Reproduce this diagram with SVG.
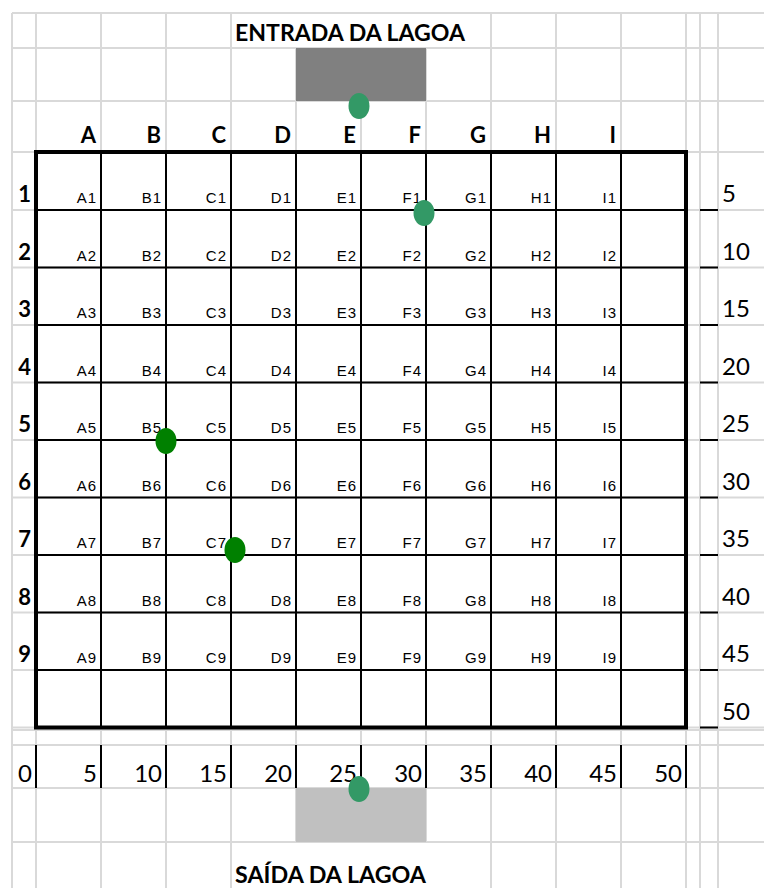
<svg xmlns="http://www.w3.org/2000/svg" width="764" height="888" viewBox="0 0 764 888">
<style>
.g{stroke:#d9d9d9;stroke-width:2;fill:none}
.b{stroke:#000;stroke-width:2;fill:none}
.cell{font-family:"Liberation Sans",Arial,sans-serif;font-size:15px;fill:#000;text-anchor:end;letter-spacing:1px}
.hdr{font-family:Lato,"Liberation Sans",sans-serif;font-weight:bold;font-size:22px;fill:#000;text-anchor:end}
.num{font-family:Lato,"Liberation Sans",sans-serif;font-size:24px;fill:#000}
.ttl{font-family:Lato,"Liberation Sans",sans-serif;font-weight:bold;font-size:22px;fill:#000}
.dk{fill:#339966}
.gr{fill:#008000}
</style>
<rect width="764" height="888" fill="#fff"/>
<g id="gridlines">
<path class="g" d="M12,13H764 M12,48H764 M12,101H764 M12,152H764 M12,210H764 M12,267.5H764 M12,325H764 M12,382.5H764 M12,440H764 M12,497.5H764 M12,555H764 M12,612.5H764 M12,670H764 M12,727.5H764 M12,730H764 M12,745H764 M12,788H764 M12,842H764"/>
<path class="g" d="M12,13V888 M36,13V888 M101,13V888 M166,13V888 M231,13V888 M296,48V842 M361,48V842 M426,48V842 M491,13V888 M556,13V888 M621,13V888 M686,13V888 M700,13V888 M718,13V888"/>
</g>
<g id="entrada">
<rect x="296" y="48" width="130" height="53" fill="#808080"/>
<text class="ttl" x="235" y="41" textLength="230" lengthAdjust="spacingAndGlyphs">ENTRADA DA LAGOA</text>
</g>
<g id="saida">
<rect x="296" y="788" width="130" height="54" fill="#c0c0c0"/>
<text class="ttl" x="235" y="883" textLength="191" lengthAdjust="spacingAndGlyphs">SAÍDA DA LAGOA</text>
</g>
<g id="grid">
<rect x="36" y="152" width="650" height="575.5" fill="none" stroke="#000" stroke-width="4"/>
<path class="b" d="M101,152V727.5 M166,152V727.5 M231,152V727.5 M296,152V727.5 M361,152V727.5 M426,152V727.5 M491,152V727.5 M556,152V727.5 M621,152V727.5"/>
<path class="b" d="M36,210H686 M36,267.5H686 M36,325H686 M36,382.5H686 M36,440H686 M36,497.5H686 M36,555H686 M36,612.5H686 M36,670H686"/>
</g>
<g id="col-headers">
<text class="hdr" x="96" y="143">A</text>
<text class="hdr" x="161" y="143">B</text>
<text class="hdr" x="226" y="143">C</text>
<text class="hdr" x="291" y="143">D</text>
<text class="hdr" x="356" y="143">E</text>
<text class="hdr" x="421" y="143">F</text>
<text class="hdr" x="486" y="143">G</text>
<text class="hdr" x="551" y="143">H</text>
<text class="hdr" x="616" y="143">I</text>
</g>
<g id="row-headers">
<text class="hdr" x="31" y="202">1</text>
<text class="hdr" x="31" y="259.5">2</text>
<text class="hdr" x="31" y="317">3</text>
<text class="hdr" x="31" y="374.5">4</text>
<text class="hdr" x="31" y="432">5</text>
<text class="hdr" x="31" y="489.5">6</text>
<text class="hdr" x="31" y="547">7</text>
<text class="hdr" x="31" y="604.5">8</text>
<text class="hdr" x="31" y="662">9</text>
</g>
<g id="cell-labels">
<text class="cell" x="97" y="203">A1</text><text class="cell" x="162" y="203">B1</text><text class="cell" x="227" y="203">C1</text><text class="cell" x="292" y="203">D1</text><text class="cell" x="357" y="203">E1</text><text class="cell" x="422" y="203">F1</text><text class="cell" x="487" y="203">G1</text><text class="cell" x="552" y="203">H1</text><text class="cell" x="617" y="203">I1</text>
<text class="cell" x="97" y="260.5">A2</text><text class="cell" x="162" y="260.5">B2</text><text class="cell" x="227" y="260.5">C2</text><text class="cell" x="292" y="260.5">D2</text><text class="cell" x="357" y="260.5">E2</text><text class="cell" x="422" y="260.5">F2</text><text class="cell" x="487" y="260.5">G2</text><text class="cell" x="552" y="260.5">H2</text><text class="cell" x="617" y="260.5">I2</text>
<text class="cell" x="97" y="318">A3</text><text class="cell" x="162" y="318">B3</text><text class="cell" x="227" y="318">C3</text><text class="cell" x="292" y="318">D3</text><text class="cell" x="357" y="318">E3</text><text class="cell" x="422" y="318">F3</text><text class="cell" x="487" y="318">G3</text><text class="cell" x="552" y="318">H3</text><text class="cell" x="617" y="318">I3</text>
<text class="cell" x="97" y="375.5">A4</text><text class="cell" x="162" y="375.5">B4</text><text class="cell" x="227" y="375.5">C4</text><text class="cell" x="292" y="375.5">D4</text><text class="cell" x="357" y="375.5">E4</text><text class="cell" x="422" y="375.5">F4</text><text class="cell" x="487" y="375.5">G4</text><text class="cell" x="552" y="375.5">H4</text><text class="cell" x="617" y="375.5">I4</text>
<text class="cell" x="97" y="433">A5</text><text class="cell" x="162" y="433">B5</text><text class="cell" x="227" y="433">C5</text><text class="cell" x="292" y="433">D5</text><text class="cell" x="357" y="433">E5</text><text class="cell" x="422" y="433">F5</text><text class="cell" x="487" y="433">G5</text><text class="cell" x="552" y="433">H5</text><text class="cell" x="617" y="433">I5</text>
<text class="cell" x="97" y="490.5">A6</text><text class="cell" x="162" y="490.5">B6</text><text class="cell" x="227" y="490.5">C6</text><text class="cell" x="292" y="490.5">D6</text><text class="cell" x="357" y="490.5">E6</text><text class="cell" x="422" y="490.5">F6</text><text class="cell" x="487" y="490.5">G6</text><text class="cell" x="552" y="490.5">H6</text><text class="cell" x="617" y="490.5">I6</text>
<text class="cell" x="97" y="548">A7</text><text class="cell" x="162" y="548">B7</text><text class="cell" x="227" y="548">C7</text><text class="cell" x="292" y="548">D7</text><text class="cell" x="357" y="548">E7</text><text class="cell" x="422" y="548">F7</text><text class="cell" x="487" y="548">G7</text><text class="cell" x="552" y="548">H7</text><text class="cell" x="617" y="548">I7</text>
<text class="cell" x="97" y="605.5">A8</text><text class="cell" x="162" y="605.5">B8</text><text class="cell" x="227" y="605.5">C8</text><text class="cell" x="292" y="605.5">D8</text><text class="cell" x="357" y="605.5">E8</text><text class="cell" x="422" y="605.5">F8</text><text class="cell" x="487" y="605.5">G8</text><text class="cell" x="552" y="605.5">H8</text><text class="cell" x="617" y="605.5">I8</text>
<text class="cell" x="97" y="663">A9</text><text class="cell" x="162" y="663">B9</text><text class="cell" x="227" y="663">C9</text><text class="cell" x="292" y="663">D9</text><text class="cell" x="357" y="663">E9</text><text class="cell" x="422" y="663">F9</text><text class="cell" x="487" y="663">G9</text><text class="cell" x="552" y="663">H9</text><text class="cell" x="617" y="663">I9</text>
</g>
<g id="right-scale">
<path class="b" d="M700,210H718 M700,267.5H718 M700,325H718 M700,382.5H718 M700,440H718 M700,497.5H718 M700,555H718 M700,612.5H718 M700,670H718 M700,727.5H718"/>
<text class="num" x="722" y="202">5</text>
<text class="num" x="722" y="259.5">10</text>
<text class="num" x="722" y="317">15</text>
<text class="num" x="722" y="374.5">20</text>
<text class="num" x="722" y="432">25</text>
<text class="num" x="722" y="489.5">30</text>
<text class="num" x="722" y="547">35</text>
<text class="num" x="722" y="604.5">40</text>
<text class="num" x="722" y="662">45</text>
<text class="num" x="722" y="719.5">50</text>
</g>
<g id="bottom-scale">
<path class="b" d="M36,745V788 M101,745V788 M166,745V788 M231,745V788 M296,745V788 M361,745V788 M426,745V788 M491,745V788 M556,745V788 M621,745V788 M686,745V788"/>
<g style="text-anchor:end">
<text class="num" x="32" y="782">0</text>
<text class="num" x="97" y="782">5</text>
<text class="num" x="162" y="782">10</text>
<text class="num" x="227" y="782">15</text>
<text class="num" x="292" y="782">20</text>
<text class="num" x="357" y="782">25</text>
<text class="num" x="422" y="782">30</text>
<text class="num" x="487" y="782">35</text>
<text class="num" x="552" y="782">40</text>
<text class="num" x="617" y="782">45</text>
<text class="num" x="682" y="782">50</text>
</g>
</g>
<g id="points">
<ellipse id="p-entrada" class="dk" cx="359" cy="106" rx="10.5" ry="13"/>
<ellipse id="p-f1" class="dk" cx="424" cy="213" rx="10.5" ry="13"/>
<ellipse id="p-b5" class="gr" cx="166" cy="441" rx="10.5" ry="13"/>
<ellipse id="p-c7" class="gr" cx="235" cy="550" rx="10.5" ry="13"/>
<ellipse id="p-saida" class="dk" cx="359" cy="789" rx="10.5" ry="13"/>
</g>
</svg>
